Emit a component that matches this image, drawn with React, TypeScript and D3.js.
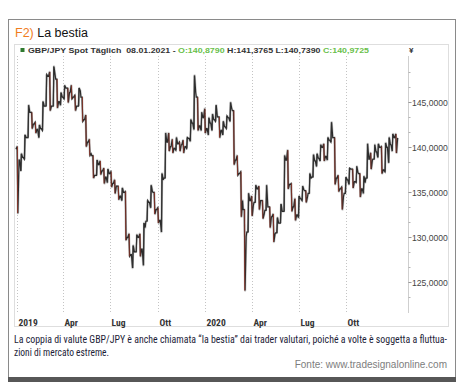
import React, { useEffect, useRef } from "react";
import * as d3 from "d3";

// weekly bars, GBP/JPY, week starting Mon 31.12.2018 ... Mon 04.01.2021
const firstWeek = new Date(2018, 11, 31);

const weekHigh = [
  140.0, 139.2, 141.3, 144.6, 143.8, 142.7, 142.4, 145.0, 148.0, 148.3,
  148.9, 147.5, 146.0, 146.8, 146.5, 146.8, 145.7, 146.5, 145.5, 143.5,
  140.8, 139.0, 138.5, 138.4, 137.6, 137.5, 137.2, 136.3, 135.6, 135.4,
  135.0, 130.3, 129.0, 130.2, 130.3, 131.5, 134.0, 135.7, 134.9, 133.2,
  137.0, 141.5, 141.5, 140.8, 141.0, 140.5, 140.7, 141.0, 143.0, 147.9,
  145.5, 143.8, 144.2, 143.2, 143.6, 144.6, 143.3, 142.8, 143.4, 144.9,
  144.0, 139.0, 137.2, 133.0, 134.8, 134.5, 135.7, 135.6, 134.0, 135.7,
  133.3, 132.5, 132.1, 133.6, 139.0, 139.6, 135.9, 134.2, 134.5, 135.6,
  135.1, 137.0, 139.1, 139.2, 140.2, 140.3, 141.0, 142.7, 141.0, 136.8,
  135.5, 136.6, 137.6, 137.5, 137.8, 137.0, 136.7, 140.3, 139.3, 140.2,
  140.3, 140.0, 140.4, 141.0, 141.4, 141.4,
];

const weekLow = [
  132.6, 137.3, 138.6, 141.0, 142.0, 141.5, 141.0, 141.8, 144.5, 144.0,
  144.5, 144.3, 144.6, 145.3, 144.9, 145.3, 144.0, 144.5, 142.8, 140.0,
  139.0, 136.5, 136.8, 136.9, 135.9, 136.0, 135.5, 134.8, 134.1, 134.0,
  129.6, 127.8, 126.5, 128.3, 127.8, 126.8, 131.7, 133.2, 132.5, 131.5,
  130.5, 136.5, 139.5, 139.3, 139.6, 139.5, 139.3, 139.8, 140.6, 141.9,
  141.8, 141.8, 141.5, 141.3, 141.8, 142.8, 141.0, 141.3, 142.0, 142.8,
  138.0, 136.8, 132.2, 124.0, 130.5, 132.3, 133.8, 133.0, 132.0, 132.9,
  131.0, 129.4, 130.4, 131.5, 132.8, 135.3, 132.8, 131.8, 132.1, 134.0,
  133.8, 134.8, 136.6, 137.8, 138.4, 138.4, 138.5, 140.5, 135.8, 135.0,
  133.0, 134.8, 135.8, 135.4, 136.0, 134.4, 134.8, 136.5, 137.5, 138.6,
  138.8, 137.0, 137.2, 138.2, 139.5, 139.3,
];

const weekClose = [
  138.5, 138.8, 141.0, 143.8, 142.5, 141.9, 142.0, 144.5, 147.8, 144.5,
  148.0, 145.0, 145.5, 146.5, 146.0, 145.5, 144.5, 146.2, 143.0, 140.5,
  139.2, 136.8, 138.0, 137.3, 136.6, 137.0, 135.9, 135.6, 134.5, 134.9,
  129.9, 128.0, 128.3, 129.9, 128.6, 131.0, 133.8, 135.0, 133.0, 131.8,
  136.3, 140.5, 140.0, 139.8, 140.3, 140.2, 140.0, 140.9, 142.6, 146.0,
  142.3, 143.2, 142.0, 142.6, 143.0, 143.3, 141.8, 142.2, 143.2, 144.2,
  138.5, 137.0, 134.0, 130.0, 134.0, 133.5, 135.3, 134.0, 132.5, 133.3,
  132.2, 130.3, 131.5, 132.8, 138.5, 135.8, 133.3, 132.4, 134.2, 135.2,
  134.4, 136.5, 138.4, 138.7, 139.9, 138.9, 140.7, 141.0, 136.5, 135.3,
  134.5, 136.3, 137.5, 136.1, 137.1, 135.3, 136.0, 138.6, 138.5, 139.4,
  139.9, 137.4, 139.9, 140.2, 141.0, 140.97,
];

const firstOpen = 139.7;

const monthLabels = ["2019", "Apr", "Lug", "Ott", "2020", "Apr", "Lug", "Ott"];
const priceTicks = [125, 130, 135, 140, 145];

const captionLines = [
  "La coppia di valute GBP/JPY è anche chiamata “la bestia” dai trader valutari, poiché a volte è soggetta a fluttua-",
  "zioni di mercato estreme.",
];

const App: React.FC = () => {
  const svgRef = useRef<SVGSVGElement | null>(null);

  useEffect(() => {
    const width = 465;
    const height = 391;
    const plotLeft = 17;
    const plotRight = 408;
    const plotTop = 44;
    const plotBottom = 313;
    const gridTop = 56;

    const svg = d3
      .select(svgRef.current)
      .attr("width", width)
      .attr("height", height)
      .attr("viewBox", [0, 0, width, height]);
    svg.selectAll("*").remove();

    svg.append("rect").attr("width", width).attr("height", height).attr("fill", "#fff");

    // outer frame + bottom bar
    svg
      .append("rect")
      .attr("x", 8.5)
      .attr("y", 19.5)
      .attr("width", 447)
      .attr("height", 358)
      .attr("fill", "none")
      .attr("stroke", "#8a8a8a");
    svg
      .append("rect")
      .attr("x", 8)
      .attr("y", 377)
      .attr("width", 448)
      .attr("height", 5)
      .attr("fill", "#575757");

    // title
    const title = svg
      .append("text")
      .attr("x", 15)
      .attr("y", 37)
      .style("font", "12.5px 'Liberation Sans', Arial, sans-serif");
    title.append("tspan").attr("fill", "#f07d1e").text("F2)");
    title.append("tspan").attr("fill", "#111").text(" La bestia");

    // chart panel
    svg
      .append("rect")
      .attr("x", 14.5)
      .attr("y", 44.5)
      .attr("width", 434)
      .attr("height", 282)
      .attr("fill", "none")
      .attr("stroke", "#dedede");

    const x = d3
      .scaleTime()
      .domain([new Date(2019, 0, 1), new Date(2021, 0, 29)])
      .range([plotLeft, plotRight]);
    const y = d3.scaleLinear().domain([121.5, 151.4]).range([plotBottom, plotTop]);

    // vertical dotted grid + month labels
    const months = d3.timeMonth.every(3)!.range(new Date(2019, 0, 1), new Date(2021, 0, 1));
    months.forEach((d, i) => {
      const gx = Math.round(x(d)) + 0.5;
      svg
        .append("line")
        .attr("x1", gx)
        .attr("x2", gx)
        .attr("y1", gridTop)
        .attr("y2", plotBottom)
        .attr("stroke", "#c4c4c4")
        .attr("stroke-dasharray", "1,2");
      svg
        .append("text")
        .attr("x", gx + 1)
        .attr("y", 326)
        .attr("fill", "#333")
        .style("font", "bold 9.5px 'Liberation Sans Narrow', 'Arial Narrow', 'Roboto Condensed', sans-serif")
        .text(monthLabels[i]);
    });

    // right price axis
    const ax = plotRight + 0.5;
    svg
      .append("line")
      .attr("x1", ax)
      .attr("x2", ax)
      .attr("y1", gridTop)
      .attr("y2", plotBottom)
      .attr("stroke", "#cfcfcf");
    const minor = d3.range(0, 19).map((k) => 123.3333 + k * (5 / 3));
    minor.forEach((v) => {
      const ty = Math.round(y(v)) + 0.5;
      if (ty < gridTop + 4 || ty > plotBottom) return;
      svg
        .append("line")
        .attr("x1", ax)
        .attr("x2", ax + 2)
        .attr("y1", ty)
        .attr("y2", ty)
        .attr("stroke", "#b5b5b5");
    });
    priceTicks.forEach((v) => {
      const ty = Math.round(y(v)) + 0.5;
      svg
        .append("line")
        .attr("x1", ax)
        .attr("x2", ax + 3)
        .attr("y1", ty)
        .attr("y2", ty)
        .attr("stroke", "#999");
      svg
        .append("text")
        .attr("x", 412)
        .attr("y", ty + 3)
        .attr("fill", "#444")
        .style("font", "8.6px 'Liberation Sans', Arial, sans-serif")
        .text(d3.format(".4f")(v).replace(".", ","));
    });
    svg
      .append("text")
      .attr("x", 409)
      .attr("y", 53)
      .attr("fill", "#333")
      .style("font", "bold 8px 'Liberation Sans', Arial, sans-serif")
      .text("¥");

    // legend
    svg
      .append("rect")
      .attr("x", 20.5)
      .attr("y", 48)
      .attr("width", 4)
      .attr("height", 4)
      .attr("fill", "#2f7a2f");
    const legend = svg
      .append("text")
      .attr("x", 28)
      .attr("y", 53)
      .attr("textLength", 341)
      .attr("lengthAdjust", "spacingAndGlyphs")
      .style("white-space", "pre")
      .style("font", "bold 8px 'Liberation Sans', Arial, sans-serif");
    legend.append("tspan").attr("fill", "#333").text("GBP/JPY Spot Täglich  08.01.2021 - ");
    legend.append("tspan").attr("fill", "#6abf4b").text("O:140,8790");
    legend.append("tspan").attr("fill", "#333").text(" H:141,3765 L:140,7390 ");
    legend.append("tspan").attr("fill", "#6abf4b").text("C:140,9725");

    // weekly OHLC bars, joined into one jagged trace like dense daily bars
    type Bar = { bx: number; o: number; h: number; l: number; c: number };
    const weeks: Bar[] = weekClose.map((c, i) => {
      const start = d3.timeDay.offset(firstWeek, i * 7);
      const bx = x(d3.timeDay.offset(start, 2.5));
      const prev = i === 0 ? firstOpen : weekClose[i - 1];
      const o = Math.max(weekLow[i], Math.min(weekHigh[i], prev));
      return { bx, o, h: weekHigh[i], l: weekLow[i], c };
    });

    const trace: [number, number][] = [];
    weeks.forEach((w) => {
      const up = w.c >= w.o;
      trace.push([w.bx - 1.5, y(w.o)]);
      trace.push([w.bx - 0.4, y(up ? w.l : w.h)]);
      trace.push([w.bx + 0.4, y(up ? w.h : w.l)]);
      trace.push([w.bx + 1.5, y(w.c)]);
    });
    // soft halo, like the blurred daily bars
    svg
      .append("path")
      .attr("d", d3.line()(trace))
      .attr("fill", "none")
      .attr("stroke", "#9a9a9a")
      .attr("stroke-opacity", 0.5)
      .attr("stroke-width", 2.4)
      .attr("stroke-linejoin", "round");
    svg
      .append("path")
      .attr("d", d3.line()(trace))
      .attr("fill", "none")
      .attr("stroke", "#2c2c2c")
      .attr("stroke-width", 1.2)
      .attr("stroke-linejoin", "miter");

    const bars = svg.append("g");
    weeks.forEach((w) => {
      const col = w.c >= w.o ? "#333" : "#8a3326";
      bars
        .append("line")
        .attr("x1", w.bx)
        .attr("x2", w.bx)
        .attr("y1", y(w.h))
        .attr("y2", y(w.l))
        .attr("stroke", col)
        .attr("stroke-width", 1)
        .attr("stroke-opacity", 0.85);
    });

    // caption
    captionLines.forEach((line, i) => {
      svg
        .append("text")
        .attr("x", 14)
        .attr("y", 343 + i * 13)
        .attr("fill", "#1d1d38")
        .attr("textLength", i === 0 ? 433 : 95)
        .attr("lengthAdjust", "spacingAndGlyphs")
        .style("font", "10px 'Liberation Sans Narrow', 'Arial Narrow', 'Roboto Condensed', sans-serif")
        .text(line);
    });
    svg
      .append("text")
      .attr("x", 447)
      .attr("y", 368)
      .attr("text-anchor", "end")
      .attr("fill", "#7d7d7d")
      .style("font", "10px 'Liberation Sans', Arial, sans-serif")
      .text("Fonte: www.tradesignalonline.com");
  }, []);

  return (
    <div style={{ position: "absolute", left: 0, top: 0 }}>
      <svg ref={svgRef}></svg>
    </div>
  );
};

export default App;
